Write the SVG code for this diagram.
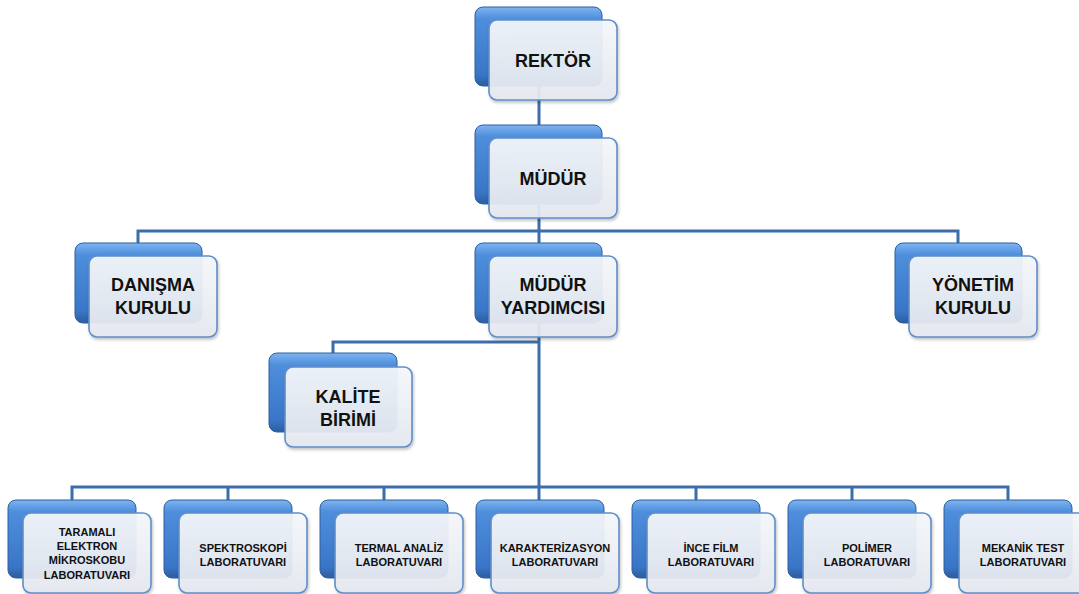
<svg xmlns="http://www.w3.org/2000/svg" width="1079" height="594" viewBox="0 0 1079 594">
<defs>
<linearGradient id="blue" x1="0" y1="0" x2="0" y2="1">
<stop offset="0" stop-color="#7fb4ef"/>
<stop offset="0.15" stop-color="#4e8edc"/>
<stop offset="0.85" stop-color="#3a76c8"/>
<stop offset="1" stop-color="#2b5d9e"/>
</linearGradient>
<linearGradient id="pale" x1="0" y1="0" x2="0" y2="1">
<stop offset="0" stop-color="#f6f8fb"/>
<stop offset="1" stop-color="#e5e9f0"/>
</linearGradient>
<filter id="sh" x="-10%" y="-10%" width="130%" height="130%">
<feDropShadow dx="1" dy="2" stdDeviation="1.5" flood-color="#000" flood-opacity="0.25"/>
</filter>
</defs>
<style>
.back{fill:url(#blue);stroke:#2f5f9f;stroke-width:1}
.front{fill:url(#pale);fill-opacity:0.93;stroke:#5f8ecb;stroke-width:1.6;filter:url(#sh)}
.conn{stroke:#3c6eac;stroke-width:3;fill:none}
.t{font-family:"Liberation Sans",Arial,sans-serif;font-weight:bold;fill:#111111;text-anchor:middle}
.big{font-size:18px}
.sm{font-size:11px}
</style>
<rect width="1079" height="594" fill="#ffffff"/>
<g id="connectors">
<path class="conn" d="M539 86V125"/>
<path class="conn" d="M539 204V243M138 243V231H958V243"/>
<path class="conn" d="M539 323V500"/>
<path class="conn" d="M539 342H333V353"/>
<path class="conn" d="M72 500V487H1008V500M228 487V500M384 487V500M696 487V500M852 487V500"/>
</g>
<g id="rektor">
<rect class="back" x="475" y="7" width="127" height="79" rx="8"/>
<rect class="front" x="489" y="20" width="128" height="80" rx="8"/>
<text class="t big" x="553" y="67">REKTÖR</text>
</g>
<g id="mudur">
<rect class="back" x="475" y="125" width="127" height="79" rx="8"/>
<rect class="front" x="489" y="138" width="128" height="80" rx="8"/>
<text class="t big" x="553" y="185">MÜDÜR</text>
</g>
<g id="danisma">
<rect class="back" x="75" y="243" width="127" height="80" rx="8"/>
<rect class="front" x="89" y="256" width="128" height="81" rx="8"/>
<text class="t big" x="153" y="291">DANIŞMA</text>
<text class="t big" x="153" y="314">KURULU</text>
</g>
<g id="mudur-yardimcisi">
<rect class="back" x="475" y="243" width="127" height="80" rx="8"/>
<rect class="front" x="489" y="256" width="128" height="81" rx="8"/>
<text class="t big" x="553" y="291">MÜDÜR</text>
<text class="t big" x="553" y="314">YARDIMCISI</text>
</g>
<g id="yonetim">
<rect class="back" x="895" y="243" width="127" height="80" rx="8"/>
<rect class="front" x="909" y="256" width="128" height="81" rx="8"/>
<text class="t big" x="973" y="291">YÖNETİM</text>
<text class="t big" x="973" y="314">KURULU</text>
</g>
<g id="kalite">
<rect class="back" x="269" y="353" width="128" height="79" rx="8"/>
<rect class="front" x="285" y="367" width="127" height="80" rx="8"/>
<text class="t big" x="348" y="403">KALİTE</text>
<text class="t big" x="348" y="426">BİRİMİ</text>
</g>
<g id="taramali">
<rect class="back" x="8" y="500" width="128" height="78" rx="8"/>
<rect class="front" x="23" y="513" width="128" height="80" rx="8"/>
<text class="t sm" x="87" y="536">TARAMALI</text>
<text class="t sm" x="87" y="550">ELEKTRON</text>
<text class="t sm" x="87" y="564">MİKROSKOBU</text>
<text class="t sm" x="87" y="579">LABORATUVARI</text>
</g>
<g id="spektroskopi">
<rect class="back" x="164" y="500" width="128" height="78" rx="8"/>
<rect class="front" x="179" y="513" width="128" height="80" rx="8"/>
<text class="t sm" x="243" y="552">SPEKTROSKOPİ</text>
<text class="t sm" x="243" y="566">LABORATUVARI</text>
</g>
<g id="termal">
<rect class="back" x="320" y="500" width="128" height="78" rx="8"/>
<rect class="front" x="335" y="513" width="128" height="80" rx="8"/>
<text class="t sm" x="399" y="552">TERMAL ANALİZ</text>
<text class="t sm" x="399" y="566">LABORATUVARI</text>
</g>
<g id="karakterizasyon">
<rect class="back" x="476" y="500" width="128" height="78" rx="8"/>
<rect class="front" x="491" y="513" width="128" height="80" rx="8"/>
<text class="t sm" x="555" y="552">KARAKTERİZASYON</text>
<text class="t sm" x="555" y="566">LABORATUVARI</text>
</g>
<g id="ince-film">
<rect class="back" x="632" y="500" width="128" height="78" rx="8"/>
<rect class="front" x="647" y="513" width="128" height="80" rx="8"/>
<text class="t sm" x="711" y="552">İNCE FİLM</text>
<text class="t sm" x="711" y="566">LABORATUVARI</text>
</g>
<g id="polimer">
<rect class="back" x="788" y="500" width="128" height="78" rx="8"/>
<rect class="front" x="803" y="513" width="128" height="80" rx="8"/>
<text class="t sm" x="867" y="552">POLİMER</text>
<text class="t sm" x="867" y="566">LABORATUVARI</text>
</g>
<g id="mekanik">
<rect class="back" x="944" y="500" width="128" height="78" rx="8"/>
<rect class="front" x="959" y="513" width="128" height="80" rx="8"/>
<text class="t sm" x="1023" y="552">MEKANİK TEST</text>
<text class="t sm" x="1023" y="566">LABORATUVARI</text>
</g>
</svg>
